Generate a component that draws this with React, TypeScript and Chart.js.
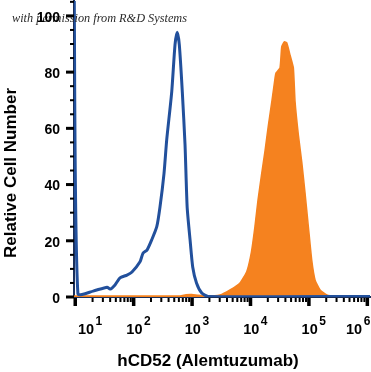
import React, { useEffect, useRef } from 'react';
import { Chart, registerables } from 'chart.js';

Chart.register(...registerables);

// Log10 of fluorescence intensity (x) and relative cell number (y)
const blueX = [0.985, 1.05, 1.31, 1.55, 1.6, 1.685, 1.77, 1.89, 1.976, 2.113, 2.164, 2.233, 2.313, 2.4, 2.455, 2.524, 2.57, 2.656, 2.712, 2.75, 2.786, 2.837, 2.884, 2.92, 2.97, 3.015, 3.08, 3.17, 3.28, 6.1];
const blueY = [112, 1.1, 2.1, 3.5, 2.8, 4.3, 6.8, 7.8, 8.9, 12.5, 15.6, 16.7, 20.3, 25, 32, 44, 55.9, 73, 89.7, 94.2, 89.7, 73, 54, 32, 20.3, 10.7, 5, 1.4, 0.2, 0.2];

const orangeX = [0.985, 2.8, 2.9, 3.0, 3.1, 3.25, 3.483, 3.654, 3.825, 3.94, 4.02, 4.08, 4.133, 4.19, 4.253, 4.31, 4.373, 4.425, 4.442, 4.51, 4.539, 4.584, 4.625, 4.682, 4.738, 4.767, 4.824, 4.882, 4.938, 4.995, 5.053, 5.11, 5.195, 5.31, 5.45, 6.1];
const orangeY = [0.4, 0.4, 0.8, 0.9, 0.6, 0.3, 0.7, 2.5, 5, 9, 16, 25, 34.5, 43, 52, 61, 70, 78, 79.7, 81.5, 89, 90.8, 90.4, 86, 81.5, 69.5, 57.6, 48, 37, 25, 13, 6, 2.5, 0.7, 0.3, 0.3];

const yTickValues = [0, 20, 40, 60, 80, 100];
const yMinorStep = 5;
const xDecades = [1, 2, 3, 4, 5, 6];
const xTickExponents = ['1', '2', '3', '4', '5', '6'];
const xTitle = 'hCD52 (Alemtuzumab)';
const yTitle = 'Relative Cell Number';
const watermark = 'with permission from R&D Systems';

const BLUE = '#22509c';
const ORANGE = '#f5821f';

const decorPlugin = {
  id: 'decor',
  afterDraw(chart: any) {
    const ctx = chart.ctx as CanvasRenderingContext2D;
    const xs = chart.scales.x;
    const ys = chart.scales.y;
    const area = chart.chartArea;
    ctx.save();

    // watermark
    ctx.fillStyle = '#2a2a2a';
    ctx.font = 'italic 12.5px "Liberation Serif"';
    const ww = ctx.measureText(watermark).width;
    ctx.save();
    ctx.translate(12, 21.5);
    ctx.scale(175 / ww, 1);
    ctx.textAlign = 'left';
    ctx.textBaseline = 'alphabetic';
    ctx.fillText(watermark, 0, 0);
    ctx.restore();

    ctx.fillStyle = '#000';
    // y ticks
    for (let v = 0; v <= ys.max; v += yMinorStep) {
      const py = ys.getPixelForValue(v);
      if (yTickValues.includes(v)) {
        ctx.fillRect(area.left - 8, py - 1.5, 8, 3);
      } else {
        ctx.fillRect(area.left - 4, py - 1, 4, 2);
      }
    }
    ctx.font = 'bold 14px "Liberation Sans"';
    ctx.textAlign = 'right';
    ctx.textBaseline = 'middle';
    yTickValues.forEach((v) => {
      ctx.fillText(String(v), area.left - 14, ys.getPixelForValue(v) + 2);
    });

    // x ticks
    const by = area.bottom + 1;
    xDecades.forEach((d, i) => {
      const px = xs.getPixelForValue(d);
      ctx.fillRect(px - 1.5, by, 3.5, 8);
      if (i < xDecades.length - 1) {
        for (let m = 2; m <= 9; m++) {
          const mx = xs.getPixelForValue(d + Math.log10(m));
          ctx.fillRect(mx - 1, by, 2, 4);
        }
      }
    });
    xDecades.forEach((d, i) => {
      let px = xs.getPixelForValue(d) + 1;
      if (i === 0) px += 10;
      if (i === xDecades.length - 1) px -= 14;
      ctx.font = 'bold 14.5px "Liberation Sans"';
      ctx.textAlign = 'center';
      ctx.textBaseline = 'alphabetic';
      const w = ctx.measureText('10').width;
      ctx.fillText('10', px, 334);
      ctx.font = 'bold 12px "Liberation Sans"';
      ctx.textAlign = 'left';
      ctx.fillText(xTickExponents[i], px + w / 2 + 1.5, 325);
    });

    // titles
    ctx.font = 'bold 17px "Liberation Sans"';
    ctx.textAlign = 'center';
    ctx.textBaseline = 'alphabetic';
    ctx.fillText(xTitle, 208, 366);
    ctx.save();
    ctx.translate(16, 173);
    ctx.rotate(-Math.PI / 2);
    ctx.fillText(yTitle, 0, 0);
    ctx.restore();

    ctx.restore();
  },
};

export default function App() {
  const ref = useRef<HTMLCanvasElement | null>(null);
  useEffect(() => {
    if (!ref.current) return;
    const chart = new Chart(ref.current, {
      type: 'scatter',
      data: {
        datasets: [
          {
            label: 'Control',
            data: blueX.map((x, i) => ({ x, y: blueY[i] })),
            showLine: true,
            borderColor: BLUE,
            borderWidth: 3,
            pointRadius: 0,
            tension: 0.2,
            fill: false,
          },
          {
            label: 'hCD52',
            data: orangeX.map((x, i) => ({ x, y: orangeY[i] })),
            showLine: true,
            borderColor: ORANGE,
            backgroundColor: ORANGE,
            borderWidth: 1.5,
            pointRadius: 0,
            tension: 0.15,
            fill: 'origin',
          },
        ],
      },
      options: {
        responsive: false,
        animation: false,
        layout: { padding: { top: 1, right: 1, left: 0, bottom: 0 } },
        plugins: { legend: { display: false }, tooltip: { enabled: false } },
        scales: {
          x: {
            type: 'linear',
            min: 0.983,
            max: 6.05,
            grid: { display: false },
            ticks: { display: false },
            border: { display: true, color: '#1a2f5a', width: 2 },
            afterFit: (s: any) => { s.height = 75; },
          },
          y: {
            type: 'linear',
            min: 0,
            max: 105.3,
            grid: { display: false },
            ticks: { display: false },
            border: { display: true, color: '#1a2f5a', width: 2 },
            afterFit: (s: any) => { s.width = 74; },
          },
        },
      },
      plugins: [decorPlugin],
    });
    return () => chart.destroy();
  }, []);
  return (
    <div style={{ position: 'absolute', left: 0, top: 0, width: 371, height: 372, background: '#fff' }}>
      <canvas ref={ref} width={371} height={372} style={{ display: 'block' }} />
    </div>
  );
}
